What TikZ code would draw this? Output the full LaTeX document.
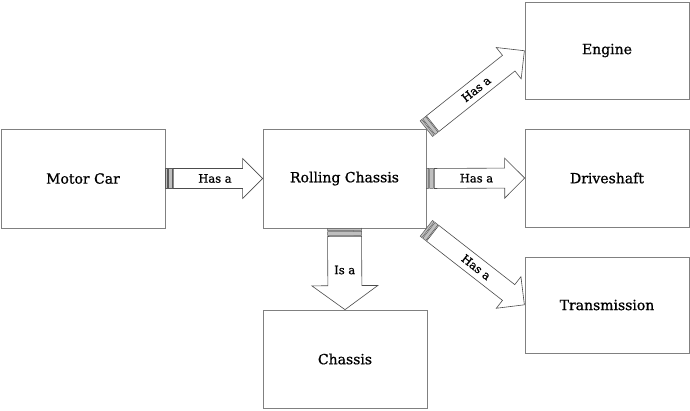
\documentclass[tikz,border=0pt]{standalone}
\usepackage{fontspec}
\setmainfont{DejaVu Serif}[FakeBold=0.9]
\usetikzlibrary{calc}
\tikzset{
  box/.style={draw=black!50, line width=0.7pt, fill=white, inner sep=0pt, font=\fontsize{14}{16}\selectfont},
  stripe/.style={draw=black!65, fill=black!25, line width=0.5pt},
  arrowline/.style={draw=black!70, fill=white, line width=0.6pt, line join=miter},
  lab/.style={font=\fontsize{11.5}{13}\selectfont, inner sep=0pt}
}
% #1 from, #2 to, #3 body half, #4 head half, #5 head length, #6 label, #7 label rotation flag (1 = along arrow)
\newcommand\sarrow[7]{%
  \path (#1); \pgfgetlastxy{\ax}{\ay}%
  \path (#2); \pgfgetlastxy{\bx}{\by}%
  \pgfmathsetmacro\sang{atan2(\by-\ay,\bx-\ax)}%
  \pgfmathsetmacro\slen{veclen(\bx-\ax,\by-\ay)}%
  \pgfmathsetmacro\lrot{#7*\sang}%
  \begin{scope}[shift={(#1)}, rotate=\sang, x=1pt, y=1pt]
    \draw[stripe] (0,-#3) rectangle (2.2,#3);
    \draw[stripe] (3.2,-#3) rectangle (7,#3);
    \draw[arrowline] (8,-#3) -- (\slen-#5,-#3) -- (\slen-#5,-#4) -- (\slen,0)
      -- (\slen-#5,#4) -- (\slen-#5,#3) -- (8,#3) -- cycle;
    \node[lab, rotate=\lrot] at (\slen/2+1,0) {#6};
  \end{scope}}
\begin{document}
\begin{tikzpicture}[x=1pt, y=-1pt]
\useasboundingbox (0,0) rectangle (690,410);
\fill[white] (0,0) rectangle (690,410);
\node[box, minimum width=164pt, minimum height=99pt] (mc) at (83,178.5) {Motor Car};
\node[box, minimum width=163pt, minimum height=99pt] (rc) at (344.5,178.5) {Rolling Chassis};
\node[box, minimum width=164pt, minimum height=97pt] (en) at (607,50.5) {Engine};
\node[box, minimum width=164pt, minimum height=98pt] (ds) at (607,178) {Driveshaft};
\node[box, minimum width=164pt, minimum height=96pt] (tr) at (607,305) {Transmission};
\node[box, minimum width=164pt, minimum height=98pt] (ch) at (345,359) {Chassis};
\sarrow{mc.east}{rc.west}{10}{20}{20}{Has a}{0}
\sarrow{rc.east}{ds.west}{10}{20}{20}{Has a}{0}
\sarrow{rc.north east}{en.west}{10}{20}{20}{Has a}{1}
\sarrow{rc.south east}{tr.west}{10}{20}{20}{Has a}{1}
\sarrow{rc.south}{ch.north}{17}{33}{24}{Is a}{0}
\end{tikzpicture}
\end{document}
